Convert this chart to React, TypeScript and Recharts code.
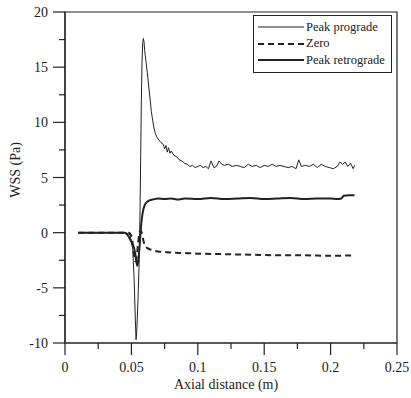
import React from 'react';
import { LineChart, Line, XAxis, YAxis, ReferenceArea, Legend } from 'recharts';

// values
const progradeX = [0.01, 0.02, 0.03, 0.04, 0.046, 0.049, 0.051, 0.052, 0.053, 0.0535, 0.054, 0.055, 0.056, 0.0565, 0.057, 0.0575, 0.058, 0.0585, 0.059, 0.0595, 0.06, 0.061, 0.062, 0.063, 0.064, 0.065, 0.066, 0.067, 0.068, 0.069, 0.07, 0.072, 0.074, 0.075, 0.076, 0.077, 0.078, 0.079, 0.08, 0.082, 0.084, 0.086, 0.088, 0.09, 0.092, 0.094, 0.096, 0.098, 0.1, 0.102, 0.104, 0.106, 0.108, 0.11, 0.112, 0.114, 0.116, 0.118, 0.12, 0.123, 0.126, 0.129, 0.132, 0.135, 0.138, 0.141, 0.144, 0.147, 0.15, 0.153, 0.156, 0.159, 0.162, 0.165, 0.168, 0.171, 0.174, 0.176, 0.178, 0.181, 0.184, 0.187, 0.19, 0.193, 0.196, 0.199, 0.202, 0.205, 0.207, 0.209, 0.211, 0.213, 0.215, 0.217, 0.218];
const progradeY = [0, 0, 0, 0, 0, -0.2, -1.5, -4, -8, -9.7, -9, -6, -2, 2, 7, 12, 15.5, 17.2, 17.6, 17.3, 16.5, 15.5, 14.5, 13.3, 12.2, 11.0, 10.2, 9.5, 9.0, 8.7, 8.5, 8.2, 8.0, 7.6, 7.9, 7.3, 7.7, 7.2, 7.4, 7.0, 6.9, 6.6, 6.5, 6.3, 6.2, 6.0, 6.1, 5.9, 6.0, 6.1, 5.9, 6.0, 5.8, 6.5, 5.9, 6.0, 6.5, 6.2, 6.1, 6.2, 6.0, 6.1, 6.0, 5.9, 6.2, 6.0, 6.1, 5.9, 6.1, 6.0, 6.2, 6.0, 6.1, 6.0, 5.9, 6.0, 5.8, 6.6, 6.0, 6.1, 6.0, 6.2, 5.9, 6.2, 6.0, 5.9, 5.8, 6.0, 6.4, 6.2, 6.4, 6.0, 6.3, 5.8, 6.1];

const zeroX = [0.01, 0.03, 0.048, 0.05, 0.051, 0.052, 0.053, 0.054, 0.055, 0.056, 0.057, 0.058, 0.059, 0.06, 0.062, 0.065, 0.07, 0.075, 0.08, 0.09, 0.1, 0.12, 0.14, 0.16, 0.18, 0.2, 0.218];
const zeroY = [0, 0, 0, -0.3, -1.0, -2.0, -2.6, -2.2, -1.0, 0.0, 0.2, -0.1, -0.7, -1.1, -1.4, -1.55, -1.7, -1.75, -1.8, -1.85, -1.9, -1.95, -2.0, -2.05, -2.05, -2.1, -2.05];

const retroX = [0.01, 0.03, 0.045, 0.047, 0.049, 0.051, 0.052, 0.053, 0.054, 0.0545, 0.055, 0.056, 0.057, 0.058, 0.059, 0.06, 0.062, 0.064, 0.066, 0.07, 0.075, 0.08, 0.085, 0.09, 0.1, 0.11, 0.12, 0.13, 0.14, 0.15, 0.16, 0.17, 0.18, 0.19, 0.2, 0.205, 0.208, 0.21, 0.214, 0.218];
const retroY = [0, 0, 0, -0.2, -0.6, -1.1, -1.4, -2.0, -2.8, -3.0, -2.7, -1.5, 0.2, 1.4, 2.1, 2.5, 2.8, 2.95, 3.0, 3.1, 3.05, 3.1, 3.0, 3.1, 3.05, 3.15, 3.05, 3.1, 3.15, 3.05, 3.1, 3.15, 3.05, 3.1, 3.1, 3.05, 3.1, 3.35, 3.4, 3.4];

const xTicks = [0, 0.025, 0.05, 0.075, 0.1, 0.125, 0.15, 0.175, 0.2, 0.225, 0.25];
const xLabels = ['0', '0.05', '0.1', '0.15', '0.2', '0.25'];
const yTicks = [-10, -7.5, -5, -2.5, 0, 2.5, 5, 7.5, 10, 12.5, 15, 17.5, 20];
const yLabels = ['-10', '-5', '0', '5', '10', '15', '20'];

const zip = (xs: number[], ys: number[]) => xs.map((x, i) => ({ x, y: ys[i] }));

const ink = '#222';
const font = '"Times New Roman", "Liberation Serif", "DejaVu Serif", serif';

const XTick = ({ x, y, payload }: any) => {
  const label = String(Math.round(payload.value * 1000) / 1000);
  const major = xLabels.includes(label);
  return (
    <g>
      <line x1={x} x2={x} y1={y} y2={y + (major ? 12 : 6)} stroke={ink} strokeWidth={1.2} />
      {major && (
        <text x={x} y={y + 29} textAnchor="middle" fontSize={14} fontFamily={font} fill={ink}>{label}</text>
      )}
    </g>
  );
};

const YTick = ({ x, y, payload }: any) => {
  const label = String(payload.value);
  const major = yLabels.includes(label);
  return (
    <g>
      <line x1={x - (major ? 12 : 6)} x2={x} y1={y} y2={y} stroke={ink} strokeWidth={1.2} />
      {major && (
        <text x={x - 17} y={y + 5} textAnchor="end" fontSize={14} fontFamily={font} fill={ink}>{label}</text>
      )}
    </g>
  );
};

const series = [
  { name: 'Peak prograde', width: 1, dash: undefined },
  { name: 'Zero', width: 2, dash: '6 4' },
  { name: 'Peak retrograde', width: 2, dash: undefined },
];

const LegendBox = () => (
  <div style={{ border: `1px solid ${ink}`, background: '#fff', padding: '3px 0 3px 4px', fontFamily: font, fontSize: 12.5, color: ink }}>
    {series.map(s => (
      <div key={s.name} style={{ display: 'flex', alignItems: 'center', height: 16.5 }}>
        <svg width={46} height={6}>
          <line x1={0} x2={46} y1={3} y2={3} stroke={ink} strokeWidth={s.width} strokeDasharray={s.dash} />
        </svg>
        <span style={{ marginLeft: 2, whiteSpace: 'nowrap' }}>{s.name}</span>
      </div>
    ))}
  </div>
);

const App = () => {
  return (
    <div style={{ position: 'absolute', left: 0, top: 0, background: '#fff' }}>
      <LineChart width={411} height={398} margin={{ top: 12, right: 14, bottom: 15, left: 0 }}>
        <XAxis
          type="number"
          dataKey="x"
          domain={[0, 0.25]}
          ticks={xTicks}
          interval={0}
          allowDuplicatedCategory={false}
          tickSize={0}
          tickMargin={0}
          tickLine={false}
          tick={<XTick />}
          height={40}
          axisLine={{ stroke: ink, strokeWidth: 1.2 }}
          label={{
            content: () => (
              <text x={226} y={389} textAnchor="middle" fontSize={14} fontFamily={font} fill={ink}>Axial distance (m)</text>
            ),
          }}
        />
        <YAxis
          type="number"
          domain={[-10, 20]}
          ticks={yTicks}
          interval={0}
          width={65}
          tickSize={0}
          tickMargin={0}
          tickLine={false}
          tick={<YTick />}
          axisLine={{ stroke: ink, strokeWidth: 1.2 }}
          label={{
            content: () => (
              <text x={20} y={170} transform="rotate(-90 20 170)" textAnchor="middle" fontSize={14} fontFamily={font} fill={ink}>WSS (Pa)</text>
            ),
          }}
        />
        <ReferenceArea x1={0} x2={0.25} y1={-10} y2={20} fill="none" stroke={ink} strokeWidth={1.2} ifOverflow="visible" />
        <Legend
          layout="vertical"
          align="center"
          verticalAlign="middle"
          content={<LegendBox />}
          wrapperStyle={{ left: 253, top: 15, width: 139 }}
        />
        <Line data={zip(progradeX, progradeY)} dataKey="y" name="Peak prograde" stroke={ink} strokeWidth={1} dot={false} isAnimationActive={false} type="linear" />
        <Line data={zip(zeroX, zeroY)} dataKey="y" name="Zero" stroke={ink} strokeWidth={2} strokeDasharray="6 4" dot={false} isAnimationActive={false} type="monotone" />
        <Line data={zip(retroX, retroY)} dataKey="y" name="Peak retrograde" stroke={ink} strokeWidth={2} dot={false} isAnimationActive={false} type="monotone" />
      </LineChart>
    </div>
  );
};

export default App;
